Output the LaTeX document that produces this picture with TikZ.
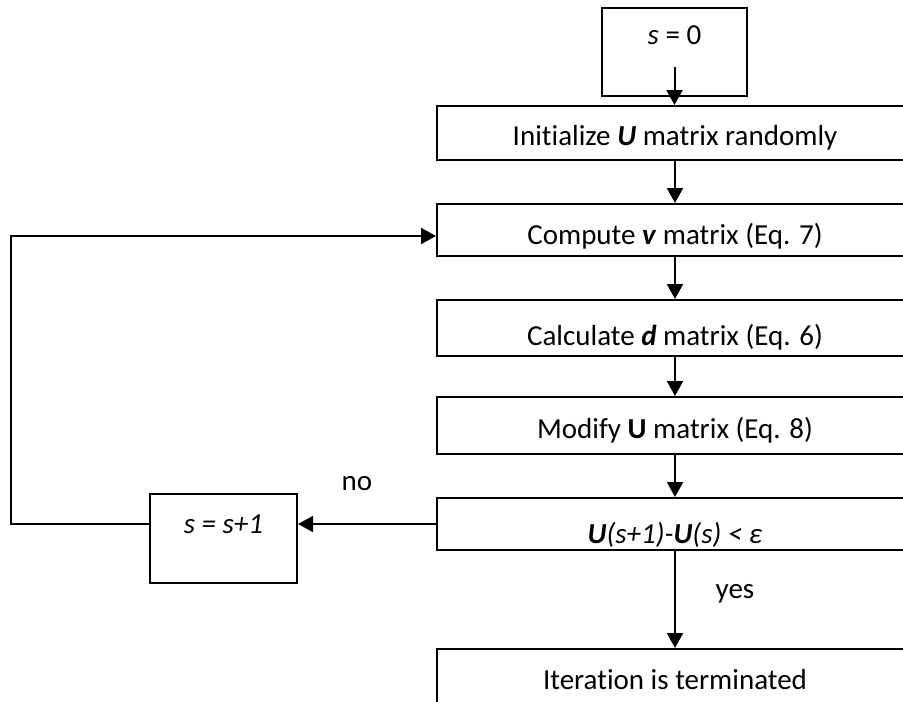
\documentclass[tikz,border=0pt]{standalone}
\usepackage{fontspec}
\setmainfont{Carlito}[Ligatures=NoCommon]
\usetikzlibrary{arrows.meta}
\begin{document}
\begin{tikzpicture}[x=1pt,y=-1pt,
  txt/.style={font=\fontsize{29}{34}\selectfont},
  box/.style={draw, line width=2pt, rectangle, inner xsep=0pt, inner ysep=0pt, txt},
  wide/.style={box, minimum width=476pt, anchor=north west},
  arr/.style={line width=2pt, -{Triangle[width=16pt,length=15pt]}}]
\clip (0,0) rectangle (903,702);

% process boxes (text sits near the top of each box)
\node[box, minimum width=145pt, anchor=north west, text height=36pt, text depth=52pt]
  (s0) at (601,7) {\textit{s} = 0};
\node[wide, text height=39pt, text depth=15pt] (init) at (436,105)
  {Initialize \textbf{\textit{U}} matrix randomly};
\node[wide, text height=40pt, text depth=12pt] (comp) at (436,203)
  {Compute \textbf{\textit{v}} matrix (Eq. 7)};
\node[wide, text height=45pt, text depth=11pt] (calc) at (436,299)
  {Calculate \textbf{\textit{d}} matrix (Eq. 6)};
\node[wide, text height=41pt, text depth=16pt] (modi) at (436,396)
  {Modify \textbf{U} matrix (Eq. 8)};
\node[wide, text height=45pt, text depth=7pt] (cond) at (436,497)
  {\textit{\textbf{U}(s+1)-\textbf{U}(s) < ε}};
\node[wide, text height=40pt, text depth=24pt] (iter) at (436,648)
  {Iteration is terminated};
\node[box, minimum width=147pt, anchor=north west, text height=39pt, text depth=50pt]
  (ss) at (149,493) {\textit{s = s+1}};

% branch labels
\node[txt] (no) at (357,484) {no};
\node[txt] (yes) at (735,594) {yes};

% main flow
\draw[arr] ([yshift=30pt]s0.south) -- (s0.south |- init.north);
\draw[arr] (init.south) -- (comp.north);
\draw[arr] (comp.south) -- (calc.north);
\draw[arr] (calc.south) -- (modi.north);
\draw[arr] (modi.south) -- (cond.north);
\draw[arr] (cond.south) -- (iter.north);

% loop back
\coordinate (lc) at (11,0);
\draw[arr] (cond.west) -- (cond.west -| ss.east);
\draw[arr] (cond.west -| ss.west) -- (cond.west -| lc) |- ([yshift=-6pt]comp.west);
\end{tikzpicture}
\end{document}
